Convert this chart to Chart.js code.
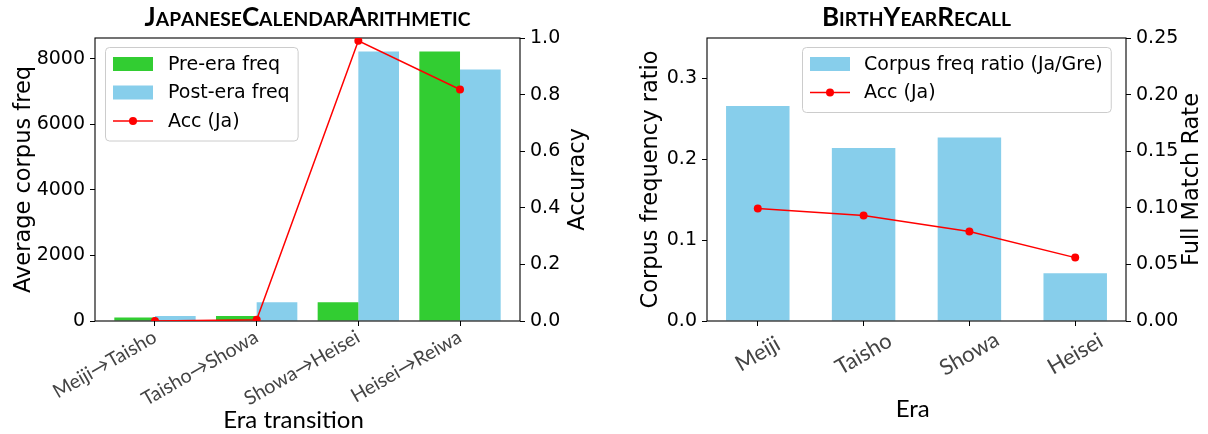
<!DOCTYPE html>
<html>
<head>
<meta charset="utf-8">
<script src="https://cdn.jsdelivr.net/npm/chart.js@4.4.1/dist/chart.umd.min.js"></script>
<style>
  html, body { margin: 0; padding: 0; background: #ffffff; }
  #figure { position: relative; width: 1208px; height: 434px; overflow: hidden; background: #ffffff; }
  .panel { position: absolute; top: 0; width: 604px; height: 434px; }
</style>
</head>
<body>
<div id="figure">
  <div class="panel" style="left:0px"><canvas id="calendarChart" width="604" height="434"></canvas></div>
  <div class="panel" style="left:604px"><canvas id="recallChart" width="604" height="434"></canvas></div>
</div>
<script>
// ---- JapaneseCalendarArithmetic ----
const transitions   = ['Meiji→Taisho', 'Taisho→Showa', 'Showa→Heisei', 'Heisei→Reiwa'];
const preEraFreq    = [110, 150, 570, 8220];
const postEraFreq   = [150, 570, 8220, 7670];
const transitionAcc = [0.0, 0.004, 0.99, 0.818];
const freqTicks     = [0, 2000, 4000, 6000, 8000];
const accTicks      = [0, 0.2, 0.4, 0.6, 0.8, 1.0];

// ---- BirthYearRecall ----
const eras            = ['Meiji', 'Taisho', 'Showa', 'Heisei'];
const corpusFreqRatio = [0.266, 0.214, 0.227, 0.059];
const recallAcc       = [0.0994, 0.0932, 0.079, 0.056];
const ratioTicks      = [0, 0.1, 0.2, 0.3];
const matchTicks      = [0, 0.05, 0.10, 0.15, 0.20, 0.25];

const GREEN = '#32CD32';
const SKY   = '#87CEEB';
const RED   = '#FF0000';
const SANS  = "'DejaVu Sans'";
const HUMAN = "Lato";
const TICK_SIZE = 19;

const PLOT_TOP = 38;
const PLOT_H   = 283;
const CANVAS_H = 434;

function fixedTicks(values) {
  return function (scale) { scale.ticks = values.map(v => ({ value: v })); };
}

function roundRect(ctx, x, y, w, h, r) {
  ctx.beginPath();
  ctx.moveTo(x + r, y);
  ctx.lineTo(x + w - r, y);
  ctx.arcTo(x + w, y, x + w, y + r, r);
  ctx.lineTo(x + w, y + h - r);
  ctx.arcTo(x + w, y + h, x + w - r, y + h, r);
  ctx.lineTo(x + r, y + h);
  ctx.arcTo(x, y + h, x, y + h - r, r);
  ctx.lineTo(x, y + r);
  ctx.arcTo(x, y, x + r, y, r);
  ctx.closePath();
}

// Title in small capitals: capitals stay full size, lower-case letters become smaller capitals.
function drawSmallCaps(ctx, text, cx, baseline, size, ratio, family) {
  const parts = [];
  for (const ch of text) {
    const lower = ch !== ch.toUpperCase();
    parts.push({ t: ch.toUpperCase(), s: lower ? size * ratio : size });
  }
  let total = 0;
  parts.forEach(p => {
    ctx.font = 'bold ' + p.s + 'px ' + family;
    p.w = ctx.measureText(p.t).width;
    total += p.w;
  });
  let x = cx - total / 2;
  ctx.textAlign = 'left';
  ctx.textBaseline = 'alphabetic';
  parts.forEach(p => {
    ctx.font = 'bold ' + p.s + 'px ' + family;
    ctx.fillText(p.t, x, baseline);
    x += p.w;
  });
}

function drawFrame(chart) {
  const { ctx, chartArea: a } = chart;
  ctx.save();
  ctx.strokeStyle = '#000000';
  ctx.lineWidth = 1.1;
  ctx.strokeRect(a.left, a.top, a.right - a.left, a.bottom - a.top);
  ctx.restore();
}

const decorPlugin = {
  id: 'decor',
  beforeDatasetDraw(chart, args) {
    if (args.meta.type === 'line') drawFrame(chart);
  },
  afterDraw(chart, args, o) {
    const { ctx, chartArea: a } = chart;
    const cx = (a.left + a.right) / 2;
    const cy = (a.top + a.bottom) / 2;
    ctx.save();
    ctx.fillStyle = '#000000';

    // title
    drawSmallCaps(ctx, o.title, cx, 26, 26, 0.74, HUMAN);

    // category labels, rotated 30 degrees
    const xs = chart.scales.x;
    const ang = -Math.PI / 6;
    ctx.fillStyle = '#444444';
    ctx.font = o.labelSize + 'px ' + HUMAN;
    o.categories.forEach((label, i) => {
      const px = xs.getPixelForValue(i);
      ctx.save();
      if (o.labelAlign === 'right') {
        ctx.translate(px + 3, 341);
        ctx.rotate(ang);
        ctx.textAlign = 'right';
        ctx.textBaseline = 'alphabetic';
      } else {
        ctx.translate(px, 354);
        ctx.rotate(ang);
        ctx.textAlign = 'center';
        ctx.textBaseline = 'middle';
      }
      ctx.fillText(label, 0, 0);
      ctx.restore();
    });

    // x axis title: starts where the sans-serif layout would start
    ctx.fillStyle = '#000000';
    ctx.font = '25px ' + SANS;
    const layoutW = ctx.measureText(o.xTitle).width;
    ctx.font = '24px ' + HUMAN;
    ctx.textAlign = 'left';
    ctx.textBaseline = 'alphabetic';
    ctx.fillText(o.xTitle, cx - layoutW / 2, o.xTitleY);

    // y axis titles, reading bottom to top
    ctx.font = '22.5px ' + SANS;
    [[o.yTitle, o.yTitleX], [o.y2Title, o.y2TitleX]].forEach(([t, x]) => {
      ctx.save();
      ctx.translate(x, cy);
      ctx.rotate(-Math.PI / 2);
      ctx.textAlign = 'center';
      ctx.textBaseline = 'alphabetic';
      ctx.fillText(t, 0, 0);
      ctx.restore();
    });

    // legend
    const L = o.legend;
    ctx.font = TICK_SIZE + 'px ' + SANS;
    const items = L.order.map(i => chart.data.datasets[i]);
    let maxW = 0;
    items.forEach(d => { maxW = Math.max(maxW, ctx.measureText(d.label).width); });
    const boxW = (L.textX - L.x) + maxW + 8;
    const boxH = items.length * L.rowGap + 8;
    roundRect(ctx, L.x + 0.5, L.y + 0.5, boxW, boxH, 4);
    ctx.fillStyle = 'rgba(255,255,255,0.8)';
    ctx.fill();
    ctx.strokeStyle = '#cccccc';
    ctx.lineWidth = 1;
    ctx.stroke();
    items.forEach((d, k) => {
      const ry = L.y + 17 + k * L.rowGap;
      const sx = L.x + 8;
      const sw = 40;
      if (d.type === 'line') {
        ctx.strokeStyle = d.borderColor;
        ctx.lineWidth = d.borderWidth;
        ctx.beginPath();
        ctx.moveTo(sx, ry);
        ctx.lineTo(sx + sw, ry);
        ctx.stroke();
        ctx.fillStyle = d.borderColor;
        ctx.beginPath();
        ctx.arc(sx + sw / 2, ry, d.pointRadius, 0, Math.PI * 2);
        ctx.fill();
      } else {
        ctx.fillStyle = d.backgroundColor;
        ctx.fillRect(sx, ry - 7, sw, 14);
      }
      ctx.fillStyle = '#000000';
      ctx.textAlign = 'left';
      ctx.textBaseline = 'middle';
      ctx.fillText(d.label, L.textX, ry + 1);
    });
    ctx.restore();
  }
};

function gridOpts() {
  return { display: true, drawOnChartArea: false, drawTicks: true, tickLength: 5, color: '#000000', lineWidth: 1, offset: false };
}

function yAxis(position, min, max, ticks, digits, width) {
  return {
    type: 'linear',
    position: position,
    min: min,
    max: max,
    afterBuildTicks: fixedTicks(ticks),
    afterFit(scale) { scale.width = width; },
    grid: gridOpts(),
    border: { display: false },
    ticks: {
      color: '#000000',
      padding: 5,
      font: { family: SANS, size: TICK_SIZE },
      callback: v => digits === null ? String(v) : Number(v).toFixed(digits)
    }
  };
}

function xAxis(min, max, count) {
  return {
    type: 'linear',
    position: 'bottom',
    min: min,
    max: max,
    offset: false,
    afterBuildTicks: fixedTicks(Array.from({ length: count }, (_, i) => i)),
    afterFit(scale) { scale.height = CANVAS_H - PLOT_TOP - PLOT_H; },
    grid: gridOpts(),
    border: { display: false },
    ticks: { display: false }
  };
}

function lineDataset(label, values) {
  return {
    type: 'line',
    label: label,
    data: values.map((v, i) => ({ x: i, y: v })),
    yAxisID: 'y2',
    borderColor: RED,
    backgroundColor: RED,
    borderWidth: 1.5,
    pointRadius: 4,
    pointHoverRadius: 4,
    pointBorderWidth: 0,
    pointBackgroundColor: RED,
    tension: 0,
    order: 0
  };
}

function barDataset(label, values, color, pct) {
  return {
    type: 'bar',
    label: label,
    data: values.map((v, i) => ({ x: i, y: v })),
    yAxisID: 'y',
    backgroundColor: color,
    borderWidth: 0,
    categoryPercentage: pct,
    barPercentage: 1.0,
    order: 1
  };
}

const common = {
  responsive: false,
  animation: false,
  events: [],
  layout: { padding: { top: PLOT_TOP, left: 0, right: 0, bottom: 0 } }
};

new Chart(document.getElementById('calendarChart'), {
  type: 'bar',
  data: {
    datasets: [
      barDataset('Pre-era freq', preEraFreq, GREEN, 0.8),
      barDataset('Post-era freq', postEraFreq, SKY, 0.8),
      lineDataset('Acc (Ja)', transitionAcc)
    ]
  },
  options: Object.assign({}, common, {
    scales: {
      x: xAxis(-0.59, 3.59, transitions.length),
      y: yAxis('left', 0, 8631, freqTicks, null, 95),
      y2: yAxis('right', 0, 1.0, accTicks, 1, 84)
    },
    plugins: {
      legend: { display: false },
      title: { display: false },
      tooltip: { enabled: false },
      decor: {
        title: 'JapaneseCalendarArithmetic',
        categories: transitions,
        labelAlign: 'right',
        labelSize: 19.5,
        xTitle: 'Era transition',
        xTitleY: 428,
        yTitle: 'Average corpus freq',
        yTitleX: 30,
        y2Title: 'Accuracy',
        y2TitleX: 584,
        legend: { x: 105, y: 47, textX: 168, rowGap: 28.5, order: [0, 1, 2] }
      }
    }
  }),
  plugins: [decorPlugin]
});

new Chart(document.getElementById('recallChart'), {
  type: 'bar',
  data: {
    datasets: [
      barDataset('Corpus freq ratio (Ja/Gre)', corpusFreqRatio, SKY, 0.6),
      lineDataset('Acc (Ja)', recallAcc)
    ]
  },
  options: Object.assign({}, common, {
    scales: {
      x: xAxis(-0.48, 3.48, eras.length),
      y: yAxis('left', 0, 0.35, ratioTicks, 1, 103),
      y2: yAxis('right', 0, 0.25, matchTicks, 2, 82)
    },
    plugins: {
      legend: { display: false },
      title: { display: false },
      tooltip: { enabled: false },
      decor: {
        title: 'BirthYearRecall',
        categories: eras,
        labelAlign: 'center',
        labelSize: 22,
        xTitle: 'Era',
        xTitleY: 417,
        yTitle: 'Corpus frequency ratio',
        yTitleX: 53,
        y2Title: 'Full Match Rate',
        y2TitleX: 594,
        legend: { x: 198, y: 47, textX: 260, rowGap: 28.5, order: [0, 1] }
      }
    }
  }),
  plugins: [decorPlugin]
});
</script>
</body>
</html>
